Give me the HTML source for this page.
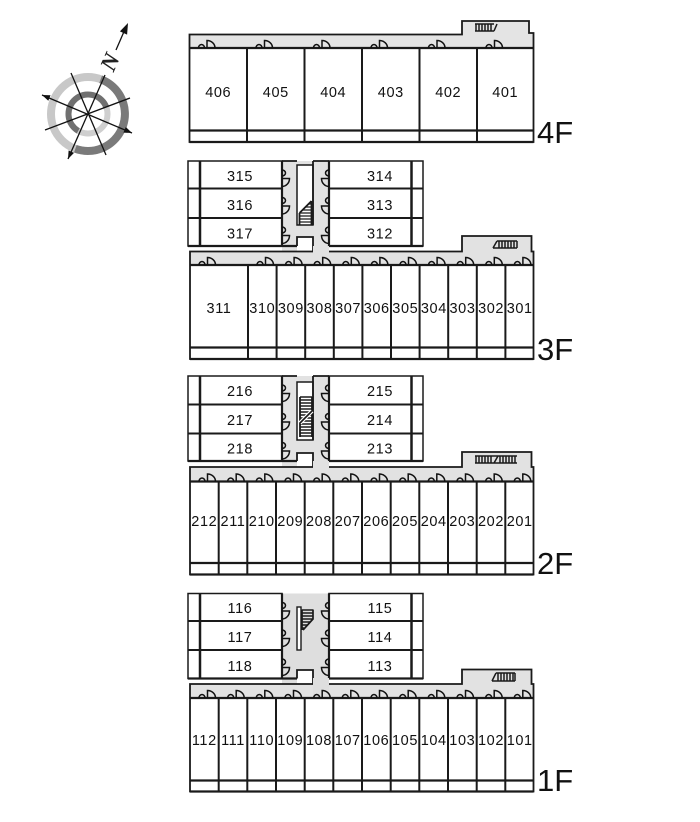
<!DOCTYPE html>
<html><head><meta charset="utf-8">
<style>html,body{margin:0;padding:0;background:#fff}svg{display:block}</style>
</head><body>
<svg width="700" height="822" viewBox="0 0 700 822" xmlns="http://www.w3.org/2000/svg">
<defs>
<g id="d" fill="none" stroke="#111" stroke-width="1.5">
<path d="M9,0 A3,3.5 0 0 1 15,0"/>
<path d="M17.5,0 V-7.5 A8,7.5 0 0 1 25.5,0"/>
</g>
</defs>
<rect width="700" height="822" fill="#fff"/>

<!-- Compass -->
<g>
<circle cx="88" cy="114" r="37" fill="none" stroke="#c8c8c8" stroke-width="8"/>
<path d="M100.65,79.23 A37,37 0 0 1 75.35,148.77" fill="none" stroke="#7a7a7a" stroke-width="8"/>
<circle cx="88" cy="114" r="19.5" fill="none" stroke="#cfcfcf" stroke-width="6"/>
<path d="M78.25,130.89 A19.5,19.5 0 1 1 106.32,107.33" fill="none" stroke="#707070" stroke-width="6"/>
<g stroke="#111" stroke-width="1.3" fill="none">
<line x1="42" y1="95" x2="132" y2="133"/>
<line x1="45" y1="130" x2="130" y2="98"/>
<line x1="71" y1="73" x2="106" y2="155"/>
<line x1="68" y1="159" x2="105" y2="75"/>
<line x1="116" y1="50" x2="126" y2="27"/>
</g>
<g fill="#111">
<polygon points="128,23 127.1,34.6 119.9,31.4"/>
<polygon points="68,159 74,152.9 68.6,150.5"/>
<polygon points="42,95 50.5,95.2 48.3,100.8"/>
<polygon points="132,133 123.4,132.6 125.8,127"/>
</g>
<text x="0" y="0" transform="translate(110,62) rotate(-66)" text-anchor="middle" dominant-baseline="central" font-family="Liberation Serif, serif" font-style="italic" font-weight="bold" font-size="23" fill="#222">N</text>
</g>

<g font-family="Liberation Sans, sans-serif" fill="#111">

<!-- ================= 4F ================= -->
<path d="M189.5,48 V34.5 H462 V21 H529 V33 H533.5 V48 Z" fill="#e4e4e4"/>
<path d="M189.5,142 V34.5 H462 V21 H529 V33 H533.5 V142 Z" fill="none" stroke="#1a1a1a" stroke-width="1.8"/>
<g stroke="#1a1a1a" fill="none">
<line x1="189.5" y1="48" x2="533.5" y2="48" stroke-width="2.2"/>
<path d="M247,48 V142 M304.5,48 V142 M362,48 V142 M419.5,48 V142 M477,48 V142" stroke-width="2"/>
<line x1="189.5" y1="130.5" x2="533.5" y2="130.5" stroke-width="2.2"/>
<line x1="189.5" y1="142" x2="533.5" y2="142" stroke-width="2.2"/>
<g stroke-width="1.5">
<path d="M475,24 H494 M475,31 H494 M476,24 V31 M479,24 V31 M482,24 V31 M485,24 V31 M488,24 V31 M491,24 V31 M494,31 L497,24"/>
</g>
</g>
<use href="#d" x="189.5" y="48"/><use href="#d" x="247" y="48"/><use href="#d" x="304.5" y="48"/>
<use href="#d" x="362" y="48"/><use href="#d" x="419.5" y="48"/><use href="#d" x="477" y="48"/>
<g font-size="14.5" text-anchor="middle" letter-spacing="0.6">
<text x="218.2" y="97">406</text><text x="275.8" y="97">405</text><text x="333.2" y="97">404</text>
<text x="390.8" y="97">403</text><text x="448.2" y="97">402</text><text x="505.2" y="97">401</text>
</g>
<text x="537" y="143" font-size="31">4F</text>

<!-- ================= 3F upper ================= -->
<rect x="282" y="161" width="47" height="91" fill="#e2e2e2"/>
<g stroke="#1a1a1a" fill="none">
<rect x="188" y="161" width="94" height="85" fill="#fff" stroke-width="1.5"/>
<line x1="200" y1="161" x2="200" y2="246" stroke-width="2.5"/>
<path d="M188,188.5 H282 M188,218 H282" stroke-width="2"/>
<line x1="282" y1="161" x2="282" y2="246" stroke-width="2.2"/>
<line x1="188" y1="246" x2="297" y2="246" stroke-width="2.2"/>
<rect x="329" y="161" width="94" height="85" fill="#fff" stroke-width="1.5"/>
<line x1="411.5" y1="161" x2="411.5" y2="246" stroke-width="2.5"/>
<path d="M329,188.5 H423 M329,218 H423" stroke-width="2"/>
<line x1="329" y1="161" x2="329" y2="246" stroke-width="2.2"/>
<line x1="329" y1="246" x2="423" y2="246" stroke-width="2.2"/>
<path d="M282,161 H297 M313,161 H329" stroke-width="1.8"/>
<rect x="297" y="165" width="16" height="60" fill="#fff" stroke-width="1.5"/>
<line x1="313" y1="161" x2="313" y2="225" stroke-width="1.8"/>
<path d="M308.5,204 H311.5 M305.5,207 H311.5 M302.5,210 H311.5 M299.5,213 H311.5 M299.5,216 H311.5 M299.5,219 H311.5 M299.5,222 H311.5" stroke-width="1.3"/>
<path d="M299.5,213 L311.5,201 M299.5,213 V225 M311.5,201 V225" stroke-width="1.8"/>
<rect x="297" y="237" width="16" height="14.5" fill="#fff" stroke="none"/>
<path d="M297,246 V237 H313 V251.5" stroke-width="1.8"/>
</g>
<use href="#d" transform="translate(282,161) rotate(90)"/>
<use href="#d" transform="translate(282,188.5) rotate(90)"/>
<use href="#d" transform="translate(282,218) rotate(90)"/>
<use href="#d" transform="matrix(0,1,1,0,329,161)"/>
<use href="#d" transform="matrix(0,1,1,0,329,188.5)"/>
<use href="#d" transform="matrix(0,1,1,0,329,218)"/>
<g font-size="14.5" text-anchor="middle" letter-spacing="0.6">
<text x="240" y="181">315</text><text x="240" y="210">316</text><text x="240" y="238.5">317</text>
<text x="380" y="181">314</text><text x="380" y="210">313</text><text x="380" y="238.5">312</text>
</g>

<!-- ================= 3F main ================= -->
<path d="M190,251.5 H462 V236 H531.5 V251.5 H533.5 V265 H190 Z" fill="#e2e2e2"/>
<rect x="313" y="246" width="16" height="19" fill="#e2e2e2"/>
<g stroke="#1a1a1a" fill="none">
<path d="M313,251.5 H190 V359 H533.5 V251.5 H531.5 V236 H462 V251.5 H329" stroke-width="1.8"/>
<line x1="190" y1="265" x2="533.5" y2="265" stroke-width="2.2"/>
<path d="M248,265 V359 M276.6,265 V359 M305.2,265 V359 M333.8,265 V359 M362.4,265 V359 M391,265 V359 M419.6,265 V359 M448.2,265 V359 M476.8,265 V359 M505.4,265 V359" stroke-width="2"/>
<line x1="190" y1="347.5" x2="533.5" y2="347.5" stroke-width="2.2"/>
<line x1="190" y1="359" x2="533.5" y2="359" stroke-width="2.2"/>
<path d="M497,241 H517 M493,248 H517 M493,248 L497,241 M499,241 V248 M502,241 V248 M505,241 V248 M508,241 V248 M511,241 V248 M514,241 V248 M517,241 V248" stroke-width="1.5"/>
</g>
<use href="#d" x="190" y="265"/><use href="#d" x="248" y="265"/><use href="#d" x="276.6" y="265"/>
<use href="#d" x="305.2" y="265"/><use href="#d" x="333.8" y="265"/><use href="#d" x="362.4" y="265"/>
<use href="#d" x="391" y="265"/><use href="#d" x="419.6" y="265"/><use href="#d" x="448.2" y="265"/>
<use href="#d" x="476.8" y="265"/><use href="#d" x="505.4" y="265"/>
<g font-size="14.5" text-anchor="middle" letter-spacing="0.6">
<text x="219" y="313">311</text><text x="262.3" y="313">310</text><text x="290.9" y="313">309</text>
<text x="319.5" y="313">308</text><text x="348.1" y="313">307</text><text x="376.7" y="313">306</text>
<text x="405.3" y="313">305</text><text x="433.9" y="313">304</text><text x="462.5" y="313">303</text>
<text x="491.1" y="313">302</text><text x="519.7" y="313">301</text>
</g>
<text x="537" y="360" font-size="31">3F</text>

<!-- ================= 2F upper ================= -->
<rect x="282" y="376" width="47" height="91.5" fill="#e2e2e2"/>
<g stroke="#1a1a1a" fill="none">
<rect x="188" y="376" width="94" height="85" fill="#fff" stroke-width="1.5"/>
<line x1="200" y1="376" x2="200" y2="461" stroke-width="2.5"/>
<path d="M188,404.5 H282 M188,433.5 H282" stroke-width="2"/>
<line x1="282" y1="376" x2="282" y2="461" stroke-width="2.2"/>
<line x1="188" y1="461" x2="297" y2="461" stroke-width="2.2"/>
<rect x="329" y="376" width="94" height="85" fill="#fff" stroke-width="1.5"/>
<line x1="411.5" y1="376" x2="411.5" y2="461" stroke-width="2.5"/>
<path d="M329,404.5 H423 M329,433.5 H423" stroke-width="2"/>
<line x1="329" y1="376" x2="329" y2="461" stroke-width="2.2"/>
<line x1="329" y1="461" x2="423" y2="461" stroke-width="2.2"/>
<path d="M282,376 H297 M313,376 H329" stroke-width="1.8"/>
<rect x="297" y="382" width="16" height="58" fill="#fff" stroke-width="1.5"/>
<line x1="313" y1="376" x2="313" y2="440" stroke-width="1.8"/>
<path d="M300,397 H312 M300,400 H312 M300,403 H312 M300,406 H312 M300,409 H312 M300,412 H312 M300,415 H312 M300,418 H312 M300,421 H312 M300,424 H312 M300,427 H312 M300,430 H312 M300,433 H312 M300,436 H312" stroke-width="1.4"/>
<path d="M300,397 V437 M312,397 V437" stroke-width="1.8"/>
<path d="M300,423 L312,411" stroke="#fff" stroke-width="4"/>
<path d="M300,423 L312,411" stroke-width="1.6"/>
<rect x="297" y="453" width="16" height="14.5" fill="#fff" stroke="none"/>
<path d="M297,461 V453 H313 V467" stroke-width="1.8"/>
</g>
<use href="#d" transform="translate(282,376) rotate(90)"/>
<use href="#d" transform="translate(282,404.5) rotate(90)"/>
<use href="#d" transform="translate(282,433.5) rotate(90)"/>
<use href="#d" transform="matrix(0,1,1,0,329,376)"/>
<use href="#d" transform="matrix(0,1,1,0,329,404.5)"/>
<use href="#d" transform="matrix(0,1,1,0,329,433.5)"/>
<g font-size="14.5" text-anchor="middle" letter-spacing="0.6">
<text x="240" y="396">216</text><text x="240" y="425">217</text><text x="240" y="453.5">218</text>
<text x="380" y="396">215</text><text x="380" y="425">214</text><text x="380" y="453.5">213</text>
</g>

<!-- ================= 2F main ================= -->
<path d="M190,467 H462 V452 H531.5 V467 H533.5 V481.5 H190 Z" fill="#e2e2e2"/>
<rect x="313" y="461" width="16" height="20" fill="#e2e2e2"/>
<g stroke="#1a1a1a" fill="none">
<path d="M313,467 H190 V574.5 H533.5 V467 H531.5 V452 H462 V467 H329" stroke-width="1.8"/>
<line x1="190" y1="481.5" x2="533.5" y2="481.5" stroke-width="2.2"/>
<path d="M218.7,481.5 V574.5 M247.3,481.5 V574.5 M276,481.5 V574.5 M304.7,481.5 V574.5 M333.3,481.5 V574.5 M362,481.5 V574.5 M390.7,481.5 V574.5 M419.3,481.5 V574.5 M448,481.5 V574.5 M476.7,481.5 V574.5 M505.3,481.5 V574.5" stroke-width="2"/>
<line x1="190" y1="563" x2="533.5" y2="563" stroke-width="2.2"/>
<line x1="190" y1="574.5" x2="533.5" y2="574.5" stroke-width="2.2"/>
<path d="M475,456 H517 M475,463 H517 M476,456 V463 M479,456 V463 M482,456 V463 M485,456 V463 M488,456 V463 M491,456 V463 M494,463 L498,456 M500,456 V463 M503,456 V463 M506,456 V463 M509,456 V463 M512,456 V463 M515,456 V463" stroke-width="1.5"/>
</g>
<use href="#d" x="190" y="481.5"/><use href="#d" x="218.7" y="481.5"/><use href="#d" x="247.3" y="481.5"/>
<use href="#d" x="276" y="481.5"/><use href="#d" x="304.7" y="481.5"/><use href="#d" x="333.3" y="481.5"/>
<use href="#d" x="362" y="481.5"/><use href="#d" x="390.7" y="481.5"/><use href="#d" x="419.3" y="481.5"/>
<use href="#d" x="448" y="481.5"/><use href="#d" x="476.7" y="481.5"/><use href="#d" x="505.3" y="481.5"/>
<g font-size="14.5" text-anchor="middle" letter-spacing="0.6">
<text x="204.3" y="526">212</text><text x="233" y="526">211</text><text x="261.7" y="526">210</text>
<text x="290.3" y="526">209</text><text x="319" y="526">208</text><text x="347.7" y="526">207</text>
<text x="376.3" y="526">206</text><text x="405" y="526">205</text><text x="433.7" y="526">204</text>
<text x="462.3" y="526">203</text><text x="491" y="526">202</text><text x="519.7" y="526">201</text>
</g>
<text x="537" y="574" font-size="31">2F</text>

<!-- ================= 1F upper ================= -->
<rect x="282" y="593.5" width="47" height="91" fill="#dedede"/>
<g stroke="#1a1a1a" fill="none">
<rect x="188" y="593.5" width="94" height="85" fill="#fff" stroke-width="1.5"/>
<line x1="200" y1="593.5" x2="200" y2="678.5" stroke-width="2.5"/>
<path d="M188,621 H282 M188,650 H282" stroke-width="2"/>
<line x1="282" y1="593.5" x2="282" y2="678.5" stroke-width="2.2"/>
<line x1="188" y1="678.5" x2="297" y2="678.5" stroke-width="2.2"/>
<rect x="329" y="593.5" width="94" height="85" fill="#fff" stroke-width="1.5"/>
<line x1="411.5" y1="593.5" x2="411.5" y2="678.5" stroke-width="2.5"/>
<path d="M329,621 H423 M329,650 H423" stroke-width="2"/>
<line x1="329" y1="593.5" x2="329" y2="678.5" stroke-width="2.2"/>
<line x1="329" y1="678.5" x2="423" y2="678.5" stroke-width="2.2"/>
<rect x="297" y="607" width="4" height="43" fill="#fff" stroke-width="1.4"/>
<path d="M302,610 H313 M302,613 H313 M302,616 H313 M302,619 H313 M302,622 H310 M302,625 H307 M302,628 H304" stroke-width="1.4"/>
<path d="M302,609.5 V630 M313,609.5 V619 L303,630" stroke-width="1.7"/>
<rect x="297" y="670" width="16" height="14.5" fill="#fff" stroke="none"/>
<path d="M297,678.5 V670 H313 V684" stroke-width="1.8"/>
</g>
<use href="#d" transform="translate(282,593.5) rotate(90)"/>
<use href="#d" transform="translate(282,621) rotate(90)"/>
<use href="#d" transform="translate(282,650) rotate(90)"/>
<use href="#d" transform="matrix(0,1,1,0,329,593.5)"/>
<use href="#d" transform="matrix(0,1,1,0,329,621)"/>
<use href="#d" transform="matrix(0,1,1,0,329,650)"/>
<g font-size="14.5" text-anchor="middle" letter-spacing="0.6">
<text x="240" y="613">116</text><text x="240" y="642">117</text><text x="240" y="671">118</text>
<text x="380" y="613">115</text><text x="380" y="642">114</text><text x="380" y="671">113</text>
</g>

<!-- ================= 1F main ================= -->
<path d="M190,684 H462 V669.5 H531.5 V684 H533.5 V698 H190 Z" fill="#e2e2e2"/>
<rect x="313" y="678" width="16" height="20" fill="#dedede"/>
<g stroke="#1a1a1a" fill="none">
<path d="M313,684 H190 V791.5 H533.5 V684 H531.5 V669.5 H462 V684 H329" stroke-width="1.8"/>
<line x1="190" y1="698" x2="533.5" y2="698" stroke-width="2.2"/>
<path d="M218.7,698 V791.5 M247.3,698 V791.5 M276,698 V791.5 M304.7,698 V791.5 M333.3,698 V791.5 M362,698 V791.5 M390.7,698 V791.5 M419.3,698 V791.5 M448,698 V791.5 M476.7,698 V791.5 M505.3,698 V791.5" stroke-width="2"/>
<line x1="190" y1="780.5" x2="533.5" y2="780.5" stroke-width="2.2"/>
<line x1="190" y1="791.5" x2="533.5" y2="791.5" stroke-width="2.2"/>
<path d="M496,673 H515 M492,681 H515 M492,681 L496,673 M498,673 V681 M501,673 V681 M504,673 V681 M507,673 V681 M510,673 V681 M513,673 V681 M515,673 V681" stroke-width="1.5"/>
</g>
<use href="#d" x="190" y="698"/><use href="#d" x="218.7" y="698"/><use href="#d" x="247.3" y="698"/>
<use href="#d" x="276" y="698"/><use href="#d" x="304.7" y="698"/><use href="#d" x="333.3" y="698"/>
<use href="#d" x="362" y="698"/><use href="#d" x="390.7" y="698"/><use href="#d" x="419.3" y="698"/>
<use href="#d" x="448" y="698"/><use href="#d" x="476.7" y="698"/><use href="#d" x="505.3" y="698"/>
<g font-size="14.5" text-anchor="middle" letter-spacing="0.6">
<text x="204.3" y="745">112</text><text x="233" y="745">111</text><text x="261.7" y="745">110</text>
<text x="290.3" y="745">109</text><text x="319" y="745">108</text><text x="347.7" y="745">107</text>
<text x="376.3" y="745">106</text><text x="405" y="745">105</text><text x="433.7" y="745">104</text>
<text x="462.3" y="745">103</text><text x="491" y="745">102</text><text x="519.7" y="745">101</text>
</g>
<text x="537" y="791" font-size="31">1F</text>

</g>
</svg>
</body></html>
